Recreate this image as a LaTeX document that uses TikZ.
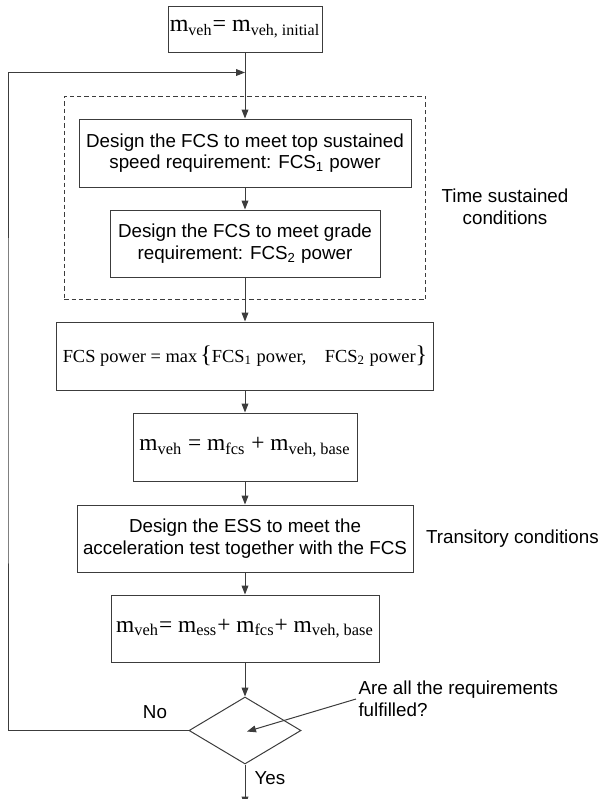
\documentclass[tikz,border=0pt]{standalone}
\usepackage{fontspec}
\setmainfont{Liberation Sans}
\newfontfamily\timesfont{Liberation Serif}
\usetikzlibrary{positioning}
\usetikzlibrary{arrows.meta}
\usetikzlibrary{shapes.geometric,fit,calc}
\definecolor{linegray}{RGB}{60,60,60}
\newcommand{\mass}[1]{m\textsubscript{#1}}
\tikzset{block/.style={draw=linegray,line width=0.5pt,align=center,inner sep=0pt,font=\fontsize{9.4}{10.8}\selectfont},
  eq block/.style={block,font=\timesfont\fontsize{11.7}{14}\selectfont},
  decision/.style={diamond,draw=linegray,line width=0.5pt,minimum width=56pt,minimum height=33.5pt,inner sep=0pt},
  note/.style={align=center,inner sep=0pt,font=\fontsize{9.4}{10.8}\selectfont},}

\begin{document}
\begin{tikzpicture}[x=0.5pt,y=-0.5pt,->,>={Triangle[length=4.5pt,width=3.4pt]},line width=0.5pt,draw=linegray]
    \useasboundingbox (0,0) rectangle (602,799);
    \node[eq block,font=\timesfont\fontsize{12}{14}\selectfont,minimum width=77pt,minimum height=23pt] (init) at (245,29) {\mass{veh}= \mass{veh, initial}};
    \coordinate[below=10pt of init] (join);
    \node[block,minimum width=166pt,minimum height=34pt] (fcs1) [below=33pt of init] {Design the FCS to meet top sustained\\speed requirement: FCS\textsubscript{1} power};
    \node[block,minimum width=135pt,minimum height=33.5pt] (fcs2) [below=11pt of fcs1] {Design the FCS to meet grade\\requirement: FCS\textsubscript{2} power};
    \node[draw=linegray,dash pattern=on 2.2pt off 1.5pt,inner xsep=7.2pt,inner ysep=11.2pt,fit=(fcs1)(fcs2)] (sustained) {};
    \node[eq block,font=\timesfont\fontsize{9.2}{12}\selectfont,minimum width=188.5pt,minimum height=34pt] (fcsmax) [below=22pt of fcs2] {FCS power = max\,{\fontsize{12}{12}\selectfont\{}FCS\textsubscript{1} power,\quad FCS\textsubscript{2} power{\fontsize{12}{12}\selectfont\}}};
    \node[eq block,minimum width=112pt,minimum height=34pt] (mfcs) [below=11pt of fcsmax] {\mass{veh} = \mass{fcs} + \mass{veh, base}};
    \node[block,minimum width=168pt,minimum height=33.5pt] (ess) [below=11.5pt of mfcs] {Design the ESS to meet the\\acceleration test together with the FCS};
    \node[eq block,minimum width=134pt,minimum height=33.5pt] (mess) [below=11pt of ess] {\mass{veh}= \mass{ess}+ \mass{fcs}+ \mass{veh, base}};
    \node[decision] (check) [below=17pt of mess] {};
    \coordinate[below=20.5pt of check] (done);
    \coordinate (loopleft) at (8,400);

    % side notes
    \node[note] (sustnote) at (505,207) {Time sustained\\conditions};
    \node[note] (transnote) [right=6pt of ess] {Transitory conditions};
    \node[note,align=left,anchor=west] (ask) at (358,699) {Are all the requirements\\fulfilled?};
    \node[note] (no) at (155,712) {No};
    \node[note] (yes) at (270,778) {Yes};
    \coordinate (bend) at ($(ask.west)+(-1pt,0)$ -| check.east);

    \draw (init) -- (fcs1);
    \draw (fcs1) -- (fcs2);
    \draw (fcs2) -- (fcsmax);
    \draw (fcsmax) -- (mfcs);
    \draw (mfcs) -- (ess);
    \draw (ess) -- (mess);
    \draw (mess) -- (check);
    \draw (check) -- (done);
    \draw (check.west) -| (loopleft) |- (join);
    \draw ($(ask.west)+(-1pt,0)$) -- (bend) -- ($(check.center)+(1pt,-0.5pt)$);
\end{tikzpicture}
\end{document}
